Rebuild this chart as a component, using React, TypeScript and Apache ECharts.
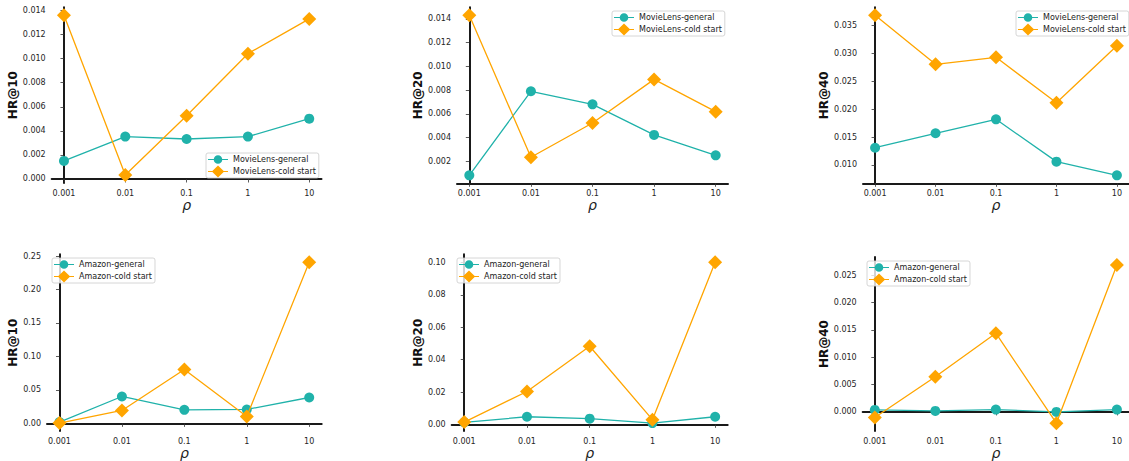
import React, { useEffect, useRef } from "react";
import * as echarts from "echarts";

const rhoCategories = ["0.001", "0.01", "0.1", "1", "10"];

const ml10General = [0.0015, 0.00352, 0.00332, 0.00352, 0.00501];
const ml10Cold = [0.0136, 0.00033, 0.00526, 0.01041, 0.0133];
const ml20General = [0.00082, 0.0079, 0.0068, 0.00422, 0.0025];
const ml20Cold = [0.0143, 0.00234, 0.00523, 0.0089, 0.00618];
const ml40General = [0.0131, 0.01569, 0.0182, 0.0106, 0.00815];
const ml40Cold = [0.03687, 0.02807, 0.02933, 0.02118, 0.03141];
const az10General = [0.002, 0.0402, 0.0203, 0.0208, 0.0387];
const az10Cold = [0.0005, 0.0193, 0.0804, 0.0104, 0.2406];
const az20General = [0.0012, 0.0047, 0.0035, 0.0008, 0.0047];
const az20Cold = [0.0014, 0.0203, 0.0483, 0.0029, 0.1002];
const az40General = [0.00036, 0.00018, 0.00042, 0.0, 0.00042];
const az40Cold = [-0.00103, 0.00642, 0.0144, -0.00206, 0.02688];

const ticksMl10 = [0, 0.002, 0.004, 0.006, 0.008, 0.01, 0.012, 0.014];
const ticksMl20 = [0.002, 0.004, 0.006, 0.008, 0.01, 0.012, 0.014];
const ticksMl40 = [0.01, 0.015, 0.02, 0.025, 0.03, 0.035];
const ticksAz10 = [0, 0.05, 0.1, 0.15, 0.2, 0.25];
const ticksAz20 = [0, 0.02, 0.04, 0.06, 0.08, 0.1];
const ticksAz40 = [0, 0.005, 0.01, 0.015, 0.02, 0.025];

const TEAL = "#20B2AA";
const ORANGE = "#FFA500";
const FONT = "DejaVu Sans";

// legend icons: a line with a marker, drawn in a 20x12 box
const ICON_CIRCLE =
  "path://M0 0 M20 12 M0 5.4 L20 5.4 L20 6.6 L0 6.6 Z M14.3 6 A4.3 4.3 0 1 1 5.7 6 A4.3 4.3 0 1 1 14.3 6 Z";
const ICON_DIAMOND =
  "path://M0 0 M20 12 M0 5.4 L20 5.4 L20 6.6 L0 6.6 Z M10 0 L16.2 6 L10 12 L3.8 6 Z";

type Panel = {
  yName: string;
  general: number[];
  cold: number[];
  generalName: string;
  coldName: string;
  ticks: number[];
  decimals: number;
  grid: { left: number; right: number; top: number; bottom: number };
  nameGap: number;
  legend: { left: number; top: number };
};

const panels: Panel[] = [
  {
    yName: "HR@10", general: ml10General, cold: ml10Cold,
    generalName: "MovieLens-general", coldName: "MovieLens-cold start",
    ticks: ticksMl10, decimals: 3,
    grid: { left: 51.7, right: 807.5, top: 7.3, bottom: 278 },
    nameGap: 31, legend: { left: 206, top: 153 },
  },
  {
    yName: "HR@20", general: ml20General, cold: ml20Cold,
    generalName: "MovieLens-general", coldName: "MovieLens-cold start",
    ticks: ticksMl20, decimals: 3,
    grid: { left: 457, right: 401, top: 7.3, bottom: 277.7 },
    nameGap: 31, legend: { left: 612, top: 11 },
  },
  {
    yName: "HR@40", general: ml40General, cold: ml40Cold,
    generalName: "MovieLens-general", coldName: "MovieLens-cold start",
    ticks: ticksMl40, decimals: 3,
    grid: { left: 863, right: -3.2, top: 7.3, bottom: 277.7 },
    nameGap: 31, legend: { left: 1016, top: 11 },
  },
  {
    yName: "HR@10", general: az10General, cold: az10Cold,
    generalName: "Amazon-general", coldName: "Amazon-cold start",
    ticks: ticksAz10, decimals: 2,
    grid: { left: 47, right: 807.3, top: 254.3, bottom: 29.2 },
    nameGap: 25, legend: { left: 52, top: 258 },
  },
  {
    yName: "HR@20", general: az20General, cold: az20Cold,
    generalName: "Amazon-general", coldName: "Amazon-cold start",
    ticks: ticksAz20, decimals: 2,
    grid: { left: 451.7, right: 401.3, top: 254.3, bottom: 29.2 },
    nameGap: 25, legend: { left: 457, top: 258 },
  },
  {
    yName: "HR@40", general: az40General, cold: az40Cold,
    generalName: "Amazon-general", coldName: "Amazon-cold start",
    ticks: ticksAz40, decimals: 3,
    grid: { left: 862.7, right: -3.2, top: 257, bottom: 28.7 },
    nameGap: 31, legend: { left: 867, top: 261 },
  },
];

function buildOption() {
  const grid: any[] = [];
  const xAxis: any[] = [];
  const yAxis: any[] = [];
  const series: any[] = [];
  const legend: any[] = [];
  const axisLine = { show: true, lineStyle: { color: "#1a1a1a", width: 2 } };
  const tickStyle = { color: "#333", width: 0.8 };

  panels.forEach((p, i) => {
    grid.push({ ...p.grid, containLabel: false });
    xAxis.push({
      type: "value",
      gridIndex: i,
      min: -0.2,
      max: 4.2,
      name: "ρ",
      nameLocation: "middle",
      nameGap: 14,
      nameTextStyle: { fontFamily: FONT, fontStyle: "italic", fontSize: 14, color: "#222" },
      axisLine,
      axisTick: { show: true, length: 3.5, lineStyle: tickStyle, customValues: [0, 1, 2, 3, 4] },
      axisLabel: {
        customValues: [0, 1, 2, 3, 4],
        formatter: (v: number) => rhoCategories[Math.round(v)],
        fontFamily: FONT, fontSize: 8, color: "#262626", margin: 6,
      },
      splitLine: { show: false },
    });
    const all = p.general.concat(p.cold);
    const lo = Math.min(...all);
    const hi = Math.max(...all);
    const pad = (hi - lo) * 0.05;
    yAxis.push({
      type: "value",
      gridIndex: i,
      min: lo - pad,
      max: hi + pad,
      name: p.yName,
      nameLocation: "middle",
      nameGap: p.nameGap,
      nameRotate: 90,
      nameTextStyle: { fontFamily: FONT, fontWeight: "bold", fontSize: 12, color: "#111" },
      axisLine,
      axisTick: { show: true, length: 3.5, lineStyle: tickStyle, customValues: p.ticks },
      axisLabel: {
        customValues: p.ticks,
        formatter: (v: number) => v.toFixed(p.decimals),
        fontFamily: FONT, fontSize: 8, color: "#262626", margin: 6,
      },
      splitLine: { show: false },
    });
    series.push({
      type: "line",
      name: p.generalName,
      xAxisIndex: i,
      yAxisIndex: i,
      data: p.general.map((v, j) => [j, v]),
      symbol: "circle",
      symbolSize: 10,
      color: TEAL,
      itemStyle: { color: TEAL },
      lineStyle: { color: TEAL, width: 1.3 },
      z: 2,
    });
    series.push({
      type: "line",
      name: p.coldName,
      xAxisIndex: i,
      yAxisIndex: i,
      data: p.cold.map((v, j) => [j, v]),
      symbol: "diamond",
      symbolSize: 14,
      color: ORANGE,
      itemStyle: { color: ORANGE },
      lineStyle: { color: ORANGE, width: 1.3 },
      z: 3,
    });
    legend.push({
      data: [
        { name: p.generalName, icon: ICON_CIRCLE },
        { name: p.coldName, icon: ICON_DIAMOND },
      ],
      orient: "vertical",
      left: p.legend.left,
      top: p.legend.top,
      padding: [0.5, 3, 0.5, 2],
      itemGap: 0,
      itemWidth: 20,
      itemHeight: 12,
      itemStyle: { borderWidth: 0 },
      borderColor: "#cccccc",
      borderWidth: 0.8,
      borderRadius: 2,
      backgroundColor: "rgba(255,255,255,0.8)",
      textStyle: { fontFamily: FONT, fontSize: 8, color: "#222" },
      selectedMode: false,
    });
  });

  return { animation: false, backgroundColor: "#ffffff", grid, xAxis, yAxis, series, legend };
}

export default function App() {
  const ref = useRef<HTMLDivElement>(null);
  useEffect(() => {
    if (!ref.current) return;
    const chart = echarts.init(ref.current, undefined, { renderer: "svg" });
    chart.setOption(buildOption() as any);
    return () => chart.dispose();
  }, []);
  return (
    <div
      ref={ref}
      style={{ position: "absolute", left: 0, top: 0, width: 1129, height: 461, background: "#fff" }}
    />
  );
}
